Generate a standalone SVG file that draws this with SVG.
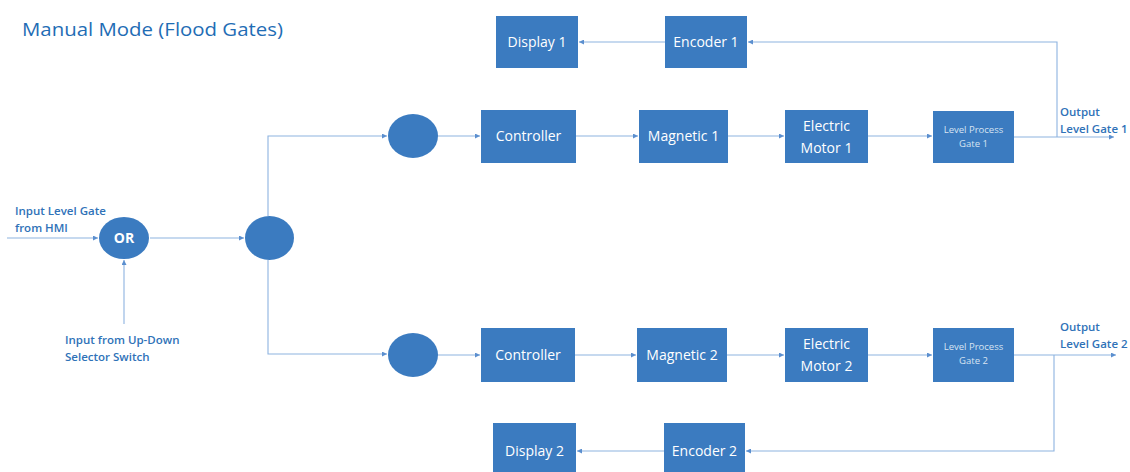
<svg xmlns="http://www.w3.org/2000/svg" width="1130" height="472" viewBox="0 0 1130 472">
<defs>
<marker id="ah" viewBox="0 0 6 6" refX="6" refY="3" markerWidth="5" markerHeight="5" orient="auto" markerUnits="userSpaceOnUse">
<path d="M0,0 L6,3 L0,6 z" fill="#5b8fcf"/>
</marker>
<style>
.box{fill:#3b7bc0;}
.el{fill:#3b7bc0;}
.t{font-family:"Open Sans","DejaVu Sans",sans-serif;fill:#ffffff;font-size:14px;text-anchor:middle;}
.ts{font-family:"Open Sans","DejaVu Sans",sans-serif;fill:#d8e4f2;font-size:9.5px;text-anchor:middle;}
.lbl{font-family:"Open Sans","DejaVu Sans",sans-serif;fill:#2f72b8;font-size:11.5px;font-weight:600;}
.c{fill:none;stroke:#8db3e0;stroke-width:1.1;}
.a{marker-end:url(#ah);}
</style>
</defs>
<rect width="1130" height="472" fill="#ffffff"/>
<text x="22" y="36" font-family="'Open Sans','DejaVu Sans',sans-serif" font-size="18.5" fill="#1f6db5" textLength="261" lengthAdjust="spacingAndGlyphs">Manual Mode (Flood Gates)</text>

<g id="connectors">
<path class="c a" d="M7,238 H98"/>
<path class="c a" d="M124,324 V260"/>
<path class="c a" d="M150,238 H244"/>
<path class="c a" d="M268,216 V136 H387"/>
<path class="c a" d="M268,260 V354 H387"/>
<path class="c a" d="M438,136 H480"/>
<path class="c a" d="M576,136 H638"/>
<path class="c a" d="M728,136 H784"/>
<path class="c a" d="M868,136 H932"/>
<path class="c a" d="M1014,137 H1114"/>
<path class="c a" d="M1057,137 V42 H748"/>
<path class="c a" d="M665,42 H579"/>
<path class="c a" d="M438,355 H480"/>
<path class="c a" d="M575,355 H636"/>
<path class="c a" d="M727,355 H784"/>
<path class="c a" d="M868,355 H932"/>
<path class="c a" d="M1014,355 H1116"/>
<path class="c a" d="M1054,355 V451 H746"/>
<path class="c a" d="M664,451 H577"/>
</g>

<g id="or"><ellipse class="el" cx="124" cy="238" rx="25" ry="21"/><text class="t" x="124" y="243" font-weight="bold" font-size="12">OR</text></g>
<g id="split"><ellipse class="el" cx="269.5" cy="238" rx="24.5" ry="22"/></g>
<g id="sum1"><ellipse class="el" cx="413" cy="136" rx="25" ry="22"/></g>
<g id="sum2"><ellipse class="el" cx="413" cy="355" rx="25" ry="22"/></g>

<g id="display1"><rect class="box" x="496" y="16" width="82" height="52"/><text class="t" x="537" y="47">Display 1</text></g>
<g id="encoder1"><rect class="box" x="665" y="16" width="82" height="52"/><text class="t" x="706" y="47">Encoder 1</text></g>
<g id="controller1"><rect class="box" x="481" y="110" width="95" height="53"/><text class="t" x="528.5" y="141">Controller</text></g>
<g id="magnetic1"><rect class="box" x="639" y="110" width="89" height="53"/><text class="t" x="683.5" y="141">Magnetic 1</text></g>
<g id="motor1"><rect class="box" x="785" y="110" width="83" height="53"/><text class="t" x="826.5" y="131">Electric</text><text class="t" x="826.5" y="153">Motor 1</text></g>
<g id="gate1"><rect class="box" x="933" y="111" width="81" height="52"/><text class="ts" x="973.5" y="133">Level Process</text><text class="ts" x="973.5" y="147">Gate 1</text></g>

<g id="controller2"><rect class="box" x="481" y="328" width="94" height="54"/><text class="t" x="528" y="360">Controller</text></g>
<g id="magnetic2"><rect class="box" x="637" y="328" width="90" height="54"/><text class="t" x="682" y="360">Magnetic 2</text></g>
<g id="motor2"><rect class="box" x="785" y="328" width="83" height="54"/><text class="t" x="826.5" y="349">Electric</text><text class="t" x="826.5" y="371">Motor 2</text></g>
<g id="gate2"><rect class="box" x="933" y="328" width="81" height="54"/><text class="ts" x="973.5" y="350">Level Process</text><text class="ts" x="973.5" y="364">Gate 2</text></g>
<g id="display2"><rect class="box" x="493" y="423" width="83" height="52"/><text class="t" x="534.5" y="456">Display 2</text></g>
<g id="encoder2"><rect class="box" x="664" y="423" width="81" height="52"/><text class="t" x="704.5" y="456">Encoder 2</text></g>

<g id="labels">
<text class="lbl" x="15" y="215">Input Level Gate</text>
<text class="lbl" x="15" y="232">from HMI</text>
<text class="lbl" x="65" y="344">Input from Up-Down</text>
<text class="lbl" x="65" y="361">Selector Switch</text>
<text class="lbl" x="1060" y="116">Output</text>
<text class="lbl" x="1060" y="133">Level Gate 1</text>
<text class="lbl" x="1060" y="331">Output</text>
<text class="lbl" x="1060" y="348">Level Gate 2</text>
</g>
</svg>
